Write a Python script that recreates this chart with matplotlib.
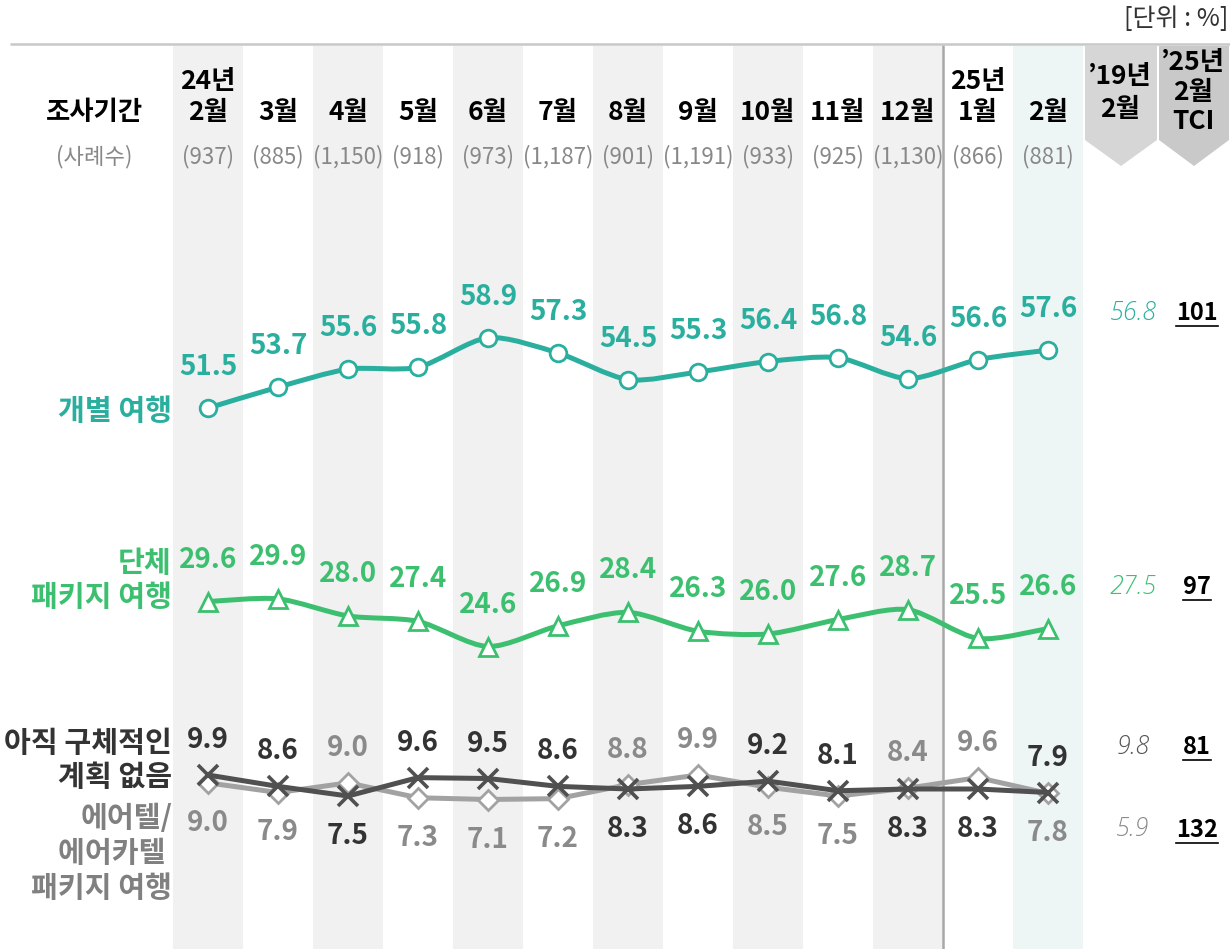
import numpy as np
import matplotlib
matplotlib.use("Agg")
import matplotlib.pyplot as plt
from matplotlib.path import Path
from matplotlib.patches import PathPatch, Polygon

plt.rcParams['font.family'] = ['Noto Sans CJK KR', 'DejaVu Sans']

# ---- data --------------------------------------------------------------- #
months = ['24년\n2월', '3월', '4월', '5월', '6월', '7월', '8월', '9월',
          '10월', '11월', '12월', '25년\n1월', '2월']
samples = [937, 885, 1150, 918, 973, 1187, 901, 1191, 933, 925, 1130, 866, 881]

individual = [51.5, 53.7, 55.6, 55.8, 58.9, 57.3, 54.5, 55.3, 56.4, 56.8, 54.6, 56.6, 57.6]
group_pkg = [29.6, 29.9, 28.0, 27.4, 24.6, 26.9, 28.4, 26.3, 26.0, 27.6, 28.7, 25.5, 26.6]
no_plan = [9.9, 8.6, 7.5, 9.6, 9.5, 8.6, 8.3, 8.6, 9.2, 8.1, 8.3, 8.3, 7.9]
airtel = [9.0, 7.9, 9.0, 7.3, 7.1, 7.2, 8.8, 9.9, 8.5, 7.5, 8.4, 9.6, 7.8]

feb19 = [56.8, 27.5, 9.8, 5.9]
tci = [101, 97, 81, 132]

TEAL = '#2aaf9f'
GREEN = '#3cc070'
DARK = '#505050'
LIGHT = '#a2a2a2'

W, H = 1230, 949
fig = plt.figure(figsize=(W / 100, H / 100), dpi=100)

# pixel-space canvas for the frame and headers
bg = fig.add_axes([0, 0, 1, 1])
bg.set_xlim(0, W)
bg.set_ylim(H, 0)
bg.axis('off')

n = len(months)
col_w = 70
x0 = 173
pos = [x0 / W, 0, n * col_w / W, 1]


def make_axis(m, c, s):
    # value m sits at pixel row c, s pixels per unit
    ax = fig.add_axes(pos, facecolor='none')
    ax.set_xlim(-0.5, n - 0.5)
    ax.set_ylim(m - (H - c) / s, m + c / s)
    ax.axis('off')
    return ax


ax_shade = make_axis(0, 0, 1)
ax_shade.set_zorder(0)
bg.set_zorder(1)
bg.patch.set_visible(False)

top = 46
for i in range(n):
    if i % 2 == 0 and i < n - 1:
        ax_shade.axvspan(i - 0.5, i + 0.5, 0, 1 - top / H, color='#f1f1f1', lw=0)
ax_shade.axvspan(n - 1.5, n - 0.5, 0, 1 - top / H, color='#eef6f5', lw=0)
ax_shade.axvline(n - 2.5, 0, 1 - top / H, color='#a8a8a8', lw=1.8)

# top rule and unit
bg.plot([10, W], [44, 44], color='#c8c8c8', lw=1.8, solid_capstyle='butt')
bg.text(W - 2, 19, '[단위 : %]', ha='right', va='center', fontsize=18, color='#333333')

# header row
bg.text(94, 112, '조사기간', ha='center', va='center', fontsize=19, fontweight='bold')
bg.text(94, 157, '(사례수)', ha='center', va='center', fontsize=16, color='#888888')
for i, (lab, cnt) in enumerate(zip(months, samples)):
    cx = x0 + col_w * (i + 0.5)
    bg.text(cx, 126, lab, ha='center', va='bottom', fontsize=19, fontweight='bold',
            linespacing=1.2)
    bg.text(cx, 157, f'({cnt:,})', ha='center', va='center', fontsize=16, color='#888888')

# right-hand header tabs
for (l, r, col) in [(1085, 1157, '#d6d6d6'), (1159, 1229, '#c9c9c9')]:
    mid = (l + r) / 2
    bg.add_patch(Polygon([(l, 46), (r, 46), (r, 140), (mid, 166), (l, 140)],
                         closed=True, color=col, lw=0))
bg.text(1120, 93, '’19년\n2월', ha='center', va='center', fontsize=19,
        fontweight='bold', linespacing=1.3)
bg.text(1193, 92, '’25년\n2월\nTCI', ha='center', va='center', fontsize=19,
        fontweight='bold', linespacing=1.1)

# series names on the left
name_kw = dict(ha='right', va='center', fontsize=21, fontweight='bold')
bg.text(172, 411, '개별 여행', color=TEAL, **name_kw)
bg.text(172, 580, '단체\n패키지 여행', color=GREEN, linespacing=1.15, **name_kw)
bg.text(172, 760, '아직 구체적인\n계획 없음', color='#333333', linespacing=1.15, **name_kw)
bg.text(172, 853, '에어텔/\n에어카텔 \n패키지 여행', color='#808080', linespacing=1.2,
        **name_kw)


def smooth_path(xs, ys, t=0.8):
    pts = np.column_stack([xs, ys]).astype(float)
    verts = [pts[0]]
    codes = [Path.MOVETO]
    for i in range(len(pts) - 1):
        p0 = pts[max(i - 1, 0)]
        p1 = pts[i]
        p2 = pts[i + 1]
        p3 = pts[min(i + 2, len(pts) - 1)]
        c1 = p1 + (p2 - p0) / 6 * t
        c2 = p2 - (p3 - p1) / 6 * t
        verts += [c1, c2, p2]
        codes += [Path.CURVE4] * 3
    return Path(verts, codes)


xs = np.arange(n)
val_kw = dict(textcoords='offset pixels', ha='center', va='center', fontsize=20,
              fontweight='bold')

# individual travel
ax1 = make_axis(55.74, 367.8, 9.5)
ax1.add_patch(PathPatch(smooth_path(xs, individual), fill=False, edgecolor=TEAL, lw=3.6))
ax1.plot(xs, individual, 'o', ms=12, mfc='white', mec=TEAL, mew=2)
for x, v in zip(xs, individual):
    ax1.annotate(f'{v:.1f}', (x, v), xytext=(0, 41), color=TEAL, **val_kw)

# group package travel
ax2 = make_axis(27.35, 621.8, 9.0)
ax2.add_patch(PathPatch(smooth_path(xs, group_pkg), fill=False, edgecolor=GREEN, lw=3.6))
ax2.plot(xs, group_pkg, '^', ms=13, mfc='white', mec=GREEN, mew=2)
for x, v in zip(xs, group_pkg):
    ax2.annotate(f'{v:.1f}', (x, v), xytext=(0, 42), color=GREEN, **val_kw)

# no plan / airtel
ax3 = make_axis(9.9, 775, 8.75)
ax3.plot(xs, airtel, '-', color=LIGHT, lw=3.6)
ax3.plot(xs, airtel, 'D', ms=10, mfc='white', mec=LIGHT, mew=2)
ax3.plot(xs, no_plan, '-', color=DARK, lw=3.6)
ax3.plot(xs, no_plan, 'x', ms=14, mec=DARK, mew=2.6)
for x, a, b in zip(xs, no_plan, airtel):
    for v, other, col in [(a, b, '#333333'), (b, a, '#8a8a8a')]:
        dy = 35 if v > other else -40
        ax3.annotate(f'{v:.1f}', (x, v), xytext=(0, dy), color=col, **val_kw)

# reference columns on the right
ref_y = [313, 587, 747, 830]
ref_col = [TEAL, GREEN, '#555555', '#8a8a8a']
fig.canvas.draw()
renderer = fig.canvas.get_renderer()
for y, v, t, c in zip(ref_y, feb19, tci, ref_col):
    bg.text(1133, y, f'{v:.1f}', ha='center', va='center', fontsize=18,
            family=['Open Sans', 'DejaVu Sans'], style='italic', fontweight='light',
            color=c)
    tx = bg.text(1197, y, str(t), ha='center', va='center', fontsize=17,
                 fontweight='bold', color='black')
    bb = tx.get_window_extent(renderer).transformed(bg.transData.inverted())
    bg.plot([bb.x0, bb.x1], [y + 13, y + 13], color='black', lw=1.2)

fig.savefig('out.png', dpi=100)
